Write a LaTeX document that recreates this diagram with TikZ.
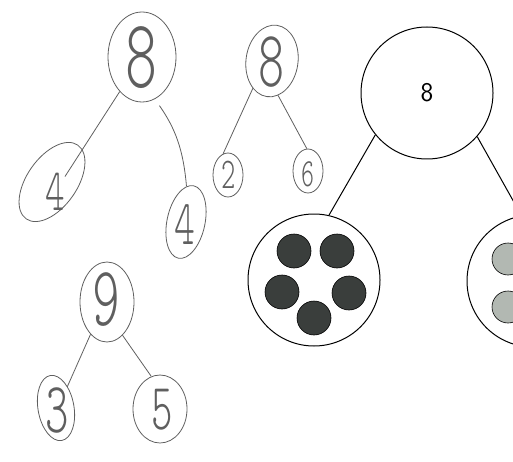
\documentclass[tikz,border=0pt]{standalone}
\usepackage{graphicx}
\usetikzlibrary{shapes.geometric}

\definecolor{pencil}{RGB}{95,95,95}
\definecolor{darkdot}{RGB}{58,62,60}
\definecolor{lightdot}{RGB}{178,184,178}

% pencil written digit: size, digit
\newcommand{\handdigit}[2]{\scalebox{0.62}[1]{\fontsize{#1}{#1}\ttfamily\fontseries{l}\selectfont #2}}

\begin{document}
\begin{tikzpicture}[x=1pt,y=-1pt,
  hand/.style={draw=pencil, line width=0.8pt, ellipse, inner sep=0pt},
  handline/.style={pencil, line width=0.8pt},
  digit/.style={text=pencil, inner sep=0pt},
  ring/.style={draw, circle, line width=1pt, minimum size=132pt, inner sep=0pt},
  bond/.style={line width=1pt}]

\useasboundingbox (0,0) rectangle (513,462);
\clip (0,0) rectangle (513,462);

% first bond, 8 = 4 + 4
\node[hand, minimum width=68pt, minimum height=90pt] (topA) at (142,57) {};
\node[digit] (eightA) at (141,58) {\handdigit{98}{8}};
\node[hand, minimum width=50pt, minimum height=90pt, rotate=-35] (leftA) at (52,182) {};
\node[digit] (fourA) at (55,192) {\handdigit{60}{4}};
\node[hand, minimum width=38pt, minimum height=74pt, rotate=-12] (rightA) at (186,222) {};
\node[digit] (fourB) at (185,225) {\handdigit{64}{4}};
\draw[handline] (topA) -- (fourA);
\draw[handline, shorten <=8pt] (topA.287) to[bend left=15] (rightA);

% second bond, 8 = 2 + 6
\node[hand, minimum width=52pt, minimum height=72pt, rotate=-8] (topB) at (272,61) {};
\node[digit] (eightB) at (272,62) {\handdigit{80}{8}};
\node[hand, minimum width=30pt, minimum height=44pt] (leftB) at (228,175) {};
\node[digit] (twoB) at (229,175) {\handdigit{44}{2}};
\node[hand, minimum width=30pt, minimum height=44pt] (rightB) at (308,171) {};
\node[digit] (sixB) at (308,174) {\handdigit{40}{6}};
\draw[handline] (topB.243) -- (leftB.103);
\draw[handline] (topB.288) -- (rightB.93);

% third bond, 9 = 3 + 5
\node[hand, minimum width=54pt, minimum height=80pt] (topC) at (107,302) {};
\node[digit] (nineC) at (106,300) {\handdigit{85}{9}};
\node[hand, minimum width=36pt, minimum height=66pt, rotate=10] (leftC) at (56,408) {};
\node[digit] (threeC) at (57,410) {\handdigit{72}{3}};
\node[hand, minimum width=54pt, minimum height=68pt] (rightC) at (160,409) {};
\node[digit] (fiveC) at (162,410) {\handdigit{66}{5}};
\draw[handline] (topC.243) -- (threeC);
\draw[handline] (topC.295) -- (rightC.105);

% printed bond with counters
\node[ring] (whole) at (427,93) {\fontsize{27}{27}\sffamily 8};
\node[ring] (partA) at (314,280) {};
\node[ring] (partB) at (533,281) {};
\draw[bond] (whole.219) -- (partA.77);
\draw[bond] (whole.319) -- (partB.100);
\foreach \dx/\dy in {-20/-29, 23/-29, -32/12, 35/13, 0/38}
  \filldraw[fill=darkdot, line width=0.6pt, shift={(partA)}] (\dx,\dy) circle[radius=17pt];
\foreach \dy in {-22,26}
  \filldraw[fill=lightdot, line width=0.6pt, shift={(partB)}] (-25,\dy) circle[radius=16pt];

\end{tikzpicture}
\end{document}
